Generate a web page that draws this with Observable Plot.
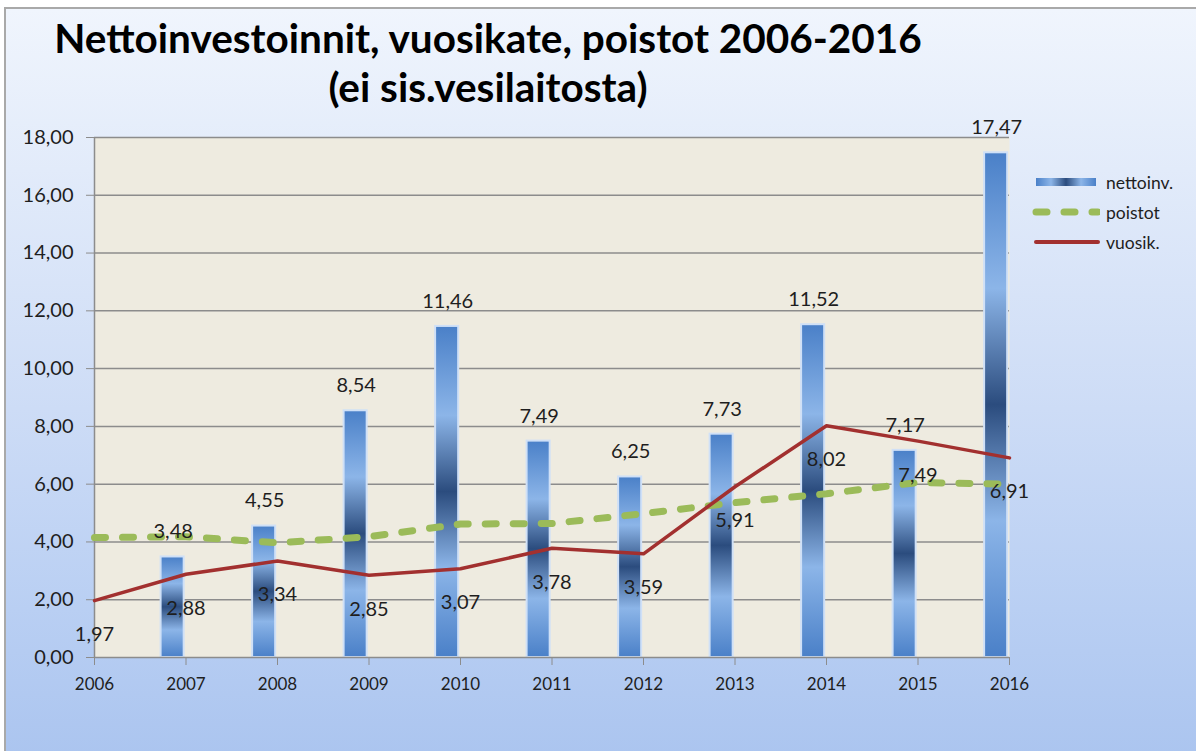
<!DOCTYPE html>
<html>
<head>
<meta charset="utf-8">
<script src="https://cdn.jsdelivr.net/npm/d3@7"></script>
<script src="https://cdn.jsdelivr.net/npm/@observablehq/plot@0.6"></script>
<style>
  body { margin: 0; background: #ffffff; width: 1196px; height: 751px; overflow: hidden; font-family: Lato, "Open Sans", sans-serif; }
  #frame { position: absolute; left: 4px; top: 7px; width: 1260px; height: 800px; border: 2px solid #a9a9a9;
    background: linear-gradient(to bottom, #f0f5fd 0%, #e2ebfa 20%, #cddcf6 50%, #b9cff3 75%, #a6c1ee 100%); }
  #chart { position: absolute; left: 0; top: 0; width: 1196px; }
  #title { height: 100px; width: 976px; text-align: center; font-weight: bold; font-size: 40.5px; line-height: 49px; color: #000; padding-top: 13px; box-sizing: border-box; font-family: Lato, sans-serif; }
  #legend { position: absolute; left: 1030px; top: 167px; font-size: 17.5px; color: #1e1e1e; font-family: Lato, sans-serif; }
  .item { display: flex; align-items: center; height: 30px; }
  .item svg { margin-right: 6px; }
</style>
</head>
<body>
<div id="frame"></div>
<div id="chart">
  <div id="title">Nettoinvestoinnit, vuosikate, poistot 2006-2016<br>(ei sis.vesilaitosta)</div>
</div>
<div id="legend">
  <div class="item"><svg width="70" height="12"><defs><linearGradient id="lgGrad" x1="0" x2="1" y1="0" y2="0"><stop offset="0" stop-color="#4a80c8"/><stop offset="0.25" stop-color="#8cb5e8"/><stop offset="0.5" stop-color="#2b4c7e"/><stop offset="0.75" stop-color="#8cb5e8"/><stop offset="1" stop-color="#4a80c8"/></linearGradient></defs><rect x="6" y="2" width="60" height="8" fill="url(#lgGrad)"/></svg>nettoinv.</div>
  <div class="item"><svg width="70" height="12"><line x1="6" x2="68" y1="6" y2="6" stroke="#9bbb59" stroke-width="7" stroke-linecap="round" stroke-dasharray="11,17"/></svg>poistot</div>
  <div class="item"><svg width="70" height="12"><line x1="6" x2="68" y1="6" y2="6" stroke="#a2302f" stroke-width="4" stroke-linecap="round"/></svg>vuosik.</div>
</div>
<script>
const years = [2006, 2007, 2008, 2009, 2010, 2011, 2012, 2013, 2014, 2015, 2016];
const nettoinv = [null, 3.48, 4.55, 8.54, 11.46, 7.49, 6.25, 7.73, 11.52, 7.17, 17.47];
const vuosik = [1.97, 2.88, 3.34, 2.85, 3.07, 3.78, 3.59, 5.91, 8.02, 7.49, 6.91];
const poistot = [4.15, 4.18, 3.97, 4.18, 4.62, 4.64, 4.98, 5.36, 5.67, 6.06, 6.0];
const yTicks = [0, 2, 4, 6, 8, 10, 12, 14, 16, 18];

const fmt = v => v.toFixed(2).replace(".", ",");
const bars = years.map((y, i) => ({year: y, value: nettoinv[i]})).filter(d => d.value != null);
const vData = years.map((y, i) => ({year: y, value: vuosik[i]}));
const pData = years.map((y, i) => ({year: y, value: poistot[i]}));

const plot = Plot.plot({
  width: 1196,
  height: 651,
  marginTop: 37,
  marginBottom: 94,
  marginLeft: 94,
  marginRight: 187,
  style: {background: "transparent", fontFamily: "Lato, sans-serif", color: "#1e1e1e", overflow: "visible"},
  x: {type: "linear", domain: [2006, 2016]},
  y: {domain: [0, 18]},
  marks: [
    Plot.frame({fill: "#eeebe0", stroke: null}),
    Plot.gridY(yTicks.filter(t => t > 0), {stroke: "#8c8c8c", strokeOpacity: 1, strokeWidth: 1.5}),
    Plot.rectY(bars, {x1: d => d.year - 0.272, x2: d => d.year - 0.02, y1: 0, y2: "value", fill: "url(#barGrad)", stroke: "#cfe0f7", strokeWidth: 2}),
    Plot.ruleY([0], {stroke: "#8c8c8c", strokeWidth: 1.5}),
    Plot.ruleX([2006], {stroke: "#8c8c8c", strokeWidth: 1.5}),
    Plot.axisY({ticks: yTicks, tickFormat: fmt, tickSize: 8, tickPadding: 13, fontSize: 20, stroke: "#8c8c8c", label: null}),
    Plot.axisX({ticks: years, tickFormat: d => String(d), tickSize: 8, tickPadding: 12, fontSize: 17, stroke: "#8c8c8c", label: null}),
    Plot.line(pData, {x: "year", y: "value", stroke: "#9bbb59", strokeWidth: 7, strokeDasharray: "11,17", strokeLinecap: "round"}),
    Plot.line(vData, {x: "year", y: "value", stroke: "#a2302f", strokeWidth: 3.5}),
    Plot.text(bars, {x: d => d.year - 0.14, y: "value", text: d => fmt(d.value), dy: -25, fontSize: 20, fill: "#1e1e1e"}),
    Plot.text(vData, {x: "year", y: "value", text: d => fmt(d.value), dy: 34, fontSize: 20, fill: "#1e1e1e"})
  ]
});

const defs = d3.select(plot).insert("defs", ":first-child");
const g = defs.append("linearGradient").attr("id", "barGrad").attr("x1", 0).attr("x2", 0).attr("y1", 0).attr("y2", 1);
[[0, "#4a80c8"], [0.27, "#8cb5e8"], [0.5, "#2b4c7e"], [0.73, "#8cb5e8"], [1, "#4a80c8"]].forEach(([o, c]) =>
  g.append("stop").attr("offset", o).attr("stop-color", c));

document.getElementById("chart").appendChild(plot);
</script>
</body>
</html>
